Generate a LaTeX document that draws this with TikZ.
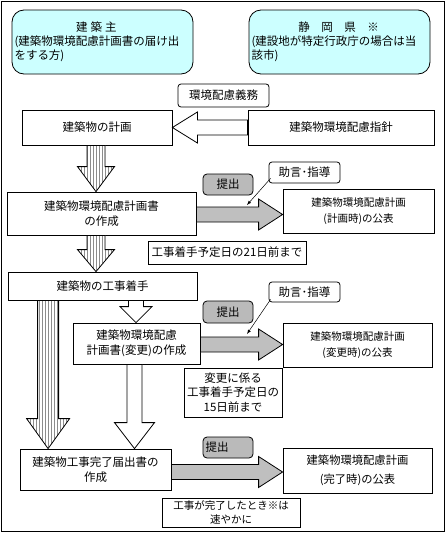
\documentclass[tikz,border=0pt]{standalone}
\usepackage{fontspec}
\setmainfont{Noto Sans CJK JP}
\usepackage{tikz}
\usetikzlibrary{calc,arrows}
\definecolor{paleCyan}{RGB}{204,255,255}
% block arrows: style, from, to, shaft half, head half, head length
\newcommand{\vblock}[6]{\path[#1] let \p1=(#2), \p2=(#3) in
  ({\x1-#4},\y1) -- ({\x1-#4},{\y2+#6}) -- ({\x1-#5},{\y2+#6}) -- (\x1,\y2)
  -- ({\x1+#5},{\y2+#6}) -- ({\x1+#4},{\y2+#6}) -- ({\x1+#4},\y1) -- cycle;}
\newcommand{\hblock}[6]{\path[#1] let \p1=(#2), \p2=(#3) in
  (\x1,{\y1+#4}) -- ({\x2-(#6)},{\y1+#4}) -- ({\x2-(#6)},{\y1+#5}) -- (\x2,\y1)
  -- ({\x2-(#6)},{\y1-#5}) -- ({\x2-(#6)},{\y1-#4}) -- (\x1,{\y1-#4}) -- cycle;}

\begin{document}
\begin{tikzpicture}[x=1pt,y=-1pt,
  font=\fontsize{11.5pt}{15pt}\selectfont,
  box/.style={draw,line width=0.8pt,inner sep=2pt,align=center},
  cyanbox/.style={box,fill=paleCyan,rounded corners=12pt,align=left,font=\fontsize{11.5pt}{14pt}\selectfont},
  tag/.style={box,rounded corners=3pt},
  subbox/.style={box,fill=black!27,rounded corners=4pt},
  hollow/.style={draw,line width=0.8pt,fill=white},
  grayarrow/.style={draw,line width=0.8pt,fill=black!25},
  stripe/.style={draw,line width=0.8pt,fill=white,path picture={
    \foreach \k in {-40,...,40}
      \draw[black!45,line width=0.4pt] ([xshift=\k*3pt]path picture bounding box.north) -- ([xshift=\k*3pt]path picture bounding box.south);}},
  pointer/.style={-latex,line width=0.5pt}]
\useasboundingbox (0,0) rectangle (446,533);
\draw[line width=0.8pt] (1,1) rectangle (444,531);

% parties
\node[cyanbox,minimum width=181pt,minimum height=64pt,text width=176pt] (owner) at (102.5,42)
  {\makebox[164pt]{建\hspace{3pt}築\hspace{3pt}主}\\(建築物環境配慮計画書の届け出\\をする方)};
\node[cyanbox,minimum width=181pt,minimum height=64pt,text width=176pt] (pref) at (339.5,42)
  {\makebox[174pt]{静　岡　県　※}\\(建設地が特定行政庁の場合は当\\該市)};

% planning
\node[tag,minimum width=91pt,minimum height=23pt] (duty) at (223.5,95.5) {環境配慮義務};
\node[box,minimum width=150pt,minimum height=35pt] (plan) at (97,127.5) {建築物の計画};
\node[box,minimum width=186pt,minimum height=35pt] (guide) at (341,127.5) {建築物環境配慮指針};

\node[box,minimum width=189pt,minimum height=43pt] (draft) at (101.5,213.5) {建築物環境配慮計画書\\の作成};
\node[subbox,minimum width=50pt,minimum height=21pt] (sub1) at (228,184.5) {提出};
\node[tag,minimum width=71pt,minimum height=21pt] (adv1) at (304.5,172.5) {助言･指導};
\node[box,minimum width=151pt,minimum height=44pt,font=\fontsize{10.5pt}{16pt}\selectfont] (pub1) at (358.5,211)
  {建築物環境配慮計画\\(計画時)の公表};
\node[box,minimum width=158pt,minimum height=23pt] (dl1) at (227,252.5) {工事着手予定日の21日前まで};

% construction
\node[box,minimum width=189pt,minimum height=28pt] (start) at (102.5,286) {建築物の工事着手};
\node[subbox,minimum width=50pt,minimum height=22pt] (sub2) at (228,312) {提出};
\node[tag,minimum width=71pt,minimum height=20pt] (adv2) at (304.5,292) {助言･指導};
\node[box,minimum width=127pt,minimum height=41pt] (change) at (136.5,343.5) {建築物環境配慮\\計画書(変更)の作成};
\node[box,minimum width=149pt,minimum height=44pt,font=\fontsize{10.5pt}{16pt}\selectfont] (pub2) at (357.5,345)
  {建築物環境配慮計画\\(変更時)の公表};
\node[box,minimum width=98pt,minimum height=49pt,font=\fontsize{11.5pt}{14.5pt}\selectfont] (dl2) at (233,392.5)
  {変更に係る\\工事着手予定日の\\15日前まで};

% completion
\node[box,minimum width=151pt,minimum height=41pt] (done) at (95.5,469.5) {建築物工事完了届出書の\\作成};
\node[subbox,minimum width=50pt,minimum height=21pt,text width=45pt,align=left] (sub3) at (228,447.5) {提出};
\node[box,minimum width=149pt,minimum height=45pt,font=\fontsize{11.3pt}{19pt}\selectfont] (pub3) at (357.5,470.5)
  {建築物環境配慮計画\\(完了時)の公表};
\node[box,minimum width=138pt,minimum height=29pt,font=\fontsize{10.5pt}{14pt}\selectfont] (note3) at (231,512.5)
  {工事が完了したとき※は\\速やかに};

% block arrows
\hblock{hollow}{guide.west}{plan.east}{7.5}{15.5}{-25}
\vblock{stripe}{$(plan.south)+(-1,0)$}{draft.north}{9}{18.5}{25}
\vblock{stripe}{$(draft.south)+(-5.5,0)$}{start.north}{9}{18.5}{22}
\vblock{hollow}{$(start.south)+(33.5,0)$}{change.north}{7.5}{16}{16}
\vblock{stripe}{$(start.south west)+(40.5,0)$}{done.north}{10.5}{21.5}{30}
\vblock{hollow}{$(change.south)+(-2,0)$}{done.north}{7.5}{20}{26}
\hblock{grayarrow}{$(draft.east)+(0,1)$}{pub1.west}{7.5}{15.5}{24}
\hblock{grayarrow}{$(change.east)+(0,1)$}{pub2.west}{7.5}{15.5}{24}
\hblock{grayarrow}{$(done.east)+(0,2.5)$}{pub3.west}{7.5}{15.5}{24}

% advice pointers
\coordinate (hint1) at (247,205);
\coordinate (hint2) at (247,334);
\draw[pointer] ([xshift=2pt,yshift=5pt]adv1.south west) -- (hint1);
\draw[pointer] ([xshift=2pt,yshift=3pt]adv2.south west) -- (hint2);
\end{tikzpicture}
\end{document}
